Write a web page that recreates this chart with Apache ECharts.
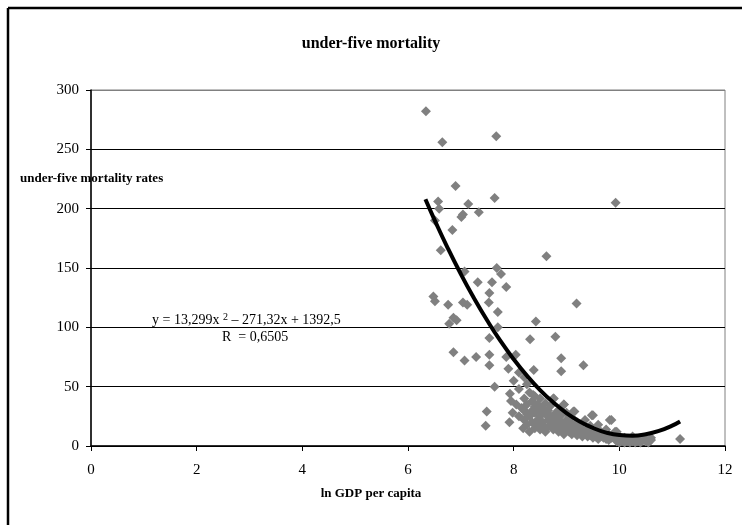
<!DOCTYPE html>
<html>
<head>
<meta charset="utf-8">
<script src="https://cdn.jsdelivr.net/npm/echarts@6/dist/echarts.min.js"></script>
<style>html,body{margin:0;padding:0;background:#fff;}#c{width:742px;height:525px;}</style>
</head>
<body>
<div id="c"></div>
<script>
// ln GDP per capita (x) and under-five mortality rate (y)
var lnGdp = [6.34,6.65,7.67,9.93,8.62,
6.90,7.64,6.57,7.14,6.59,7.34,7.01,7.04,6.51,6.84,6.62,7.07,7.68,7.76,7.32,7.59,7.86,7.54,6.48,6.51,6.76,7.04,7.12,7.53,7.70,6.86,6.78,6.92,8.42,7.70,7.54,8.31,8.79,9.19,
6.86,7.07,7.29,7.54,7.54,7.86,8.04,7.90,8.38,8.90,8.90,9.32,7.64,7.93,7.49,7.47,7.92,8.18,11.15,
8.00,8.05,8.10,7.95,8.10,8.15,7.98,8.10,8.20,8.25,8.37,8.76,8.95,9.13,9.48,9.82,9.92,
8.20,8.20,8.20,8.25,8.25,8.25,8.30,8.30,8.30,8.35,8.35,8.35,8.40,8.40,8.40,8.40,8.45,8.45,8.45,8.50,8.50,8.50,8.50,8.55,8.55,8.55,8.60,8.60,8.60,8.65,8.65,8.65,8.70,8.70,8.70,8.75,8.75,8.75,8.80,8.80,8.80,8.85,8.85,8.85,8.90,8.90,8.90,8.95,8.95,8.95,9.00,9.00,9.00,9.05,9.05,9.05,9.10,9.10,9.10,9.15,9.15,9.15,9.20,9.20,9.20,9.25,9.25,9.30,9.30,9.30,9.35,9.35,9.40,9.40,9.40,9.45,9.45,9.50,9.50,9.50,9.55,9.55,9.60,9.60,9.60,9.65,9.65,9.70,9.70,9.75,9.75,9.80,9.80,9.85,9.85,9.95,9.95,9.95,10.00,10.00,10.00,10.05,10.05,10.10,10.10,10.15,10.15,10.20,10.20,10.25,10.25,10.30,10.30,10.35,10.35,10.40,10.40,10.45,10.50,10.50,10.55,10.60,10.60];
var u5mr = [282,256,261,205,160,
219,209,206,204,200,197,193,195,190,182,165,147,150,145,138,138,134,129,126,122,119,121,119,121,113,108,103,106,105,100,91,90,92,120,
79,72,75,77,68,75,77,65,64,74,63,68,50,44,29,17,20,15,6,
55,35,48,38,25,32,28,62,58,52,43,40,35,29,26,22,12,
40,30,22,35,18,27,45,25,12,38,20,30,28,15,42,33,22,35,18,30,40,14,25,20,32,17,27,12,36,22,30,16,18,25,34,40,14,22,28,17,20,24,12,30,20,15,26,35,18,10,22,14,28,17,12,20,24,10,15,29,18,12,14,20,9,16,11,13,19,8,22,10,12,8,15,9,17,26,11,7,13,8,10,6,18,8,12,7,10,6,14,9,5,22,7,12,5,4,6,8,3,5,4,7,3,4,6,5,3,4,8,3,5,6,4,4,3,5,4,6,3,5,7];

// polynomial trend line
var trendX = [6.33,6.5,6.75,7.0,7.25,7.5,7.75,8.0,8.25,8.5,8.75,9.0,9.25,9.5,9.75,10.0,10.25,10.5,10.75,11.0,11.15];
var trendY = [207.9,190.8,167.0,144.9,124.5,105.7,88.5,73.1,59.3,47.1,36.7,27.8,20.7,15.2,11.3,9.2,8.7,9.9,12.7,17.2,20.7];

var xTicks = [0,2,4,6,8,10,12];
var yTicks = [0,50,100,150,200,250,300];

var titleText = 'under-five mortality';
var yName = 'under-five mortality rates';
var xName = 'ln GDP per capita';
var eqLine1a = 'y = 13,299x ';
var eqLine1b = '2';
var eqLine1c = ' – 271,32x + 1392,5';
var eqLine2 = 'R  = 0,6505';

var pts = lnGdp.map(function(x,i){return [x,u5mr[i]];});
var trend = trendX.map(function(x,i){return [x,trendY[i]];});

var serif = '"Liberation Serif", "Times New Roman", serif';
var chart = echarts.init(document.getElementById('c'), null, {renderer:'canvas'});
chart.setOption({
  backgroundColor:'#fff',
  animation:false,
  title:{text:titleText,left:'center',top:31,textStyle:{fontFamily:serif,fontWeight:'bold',fontSize:16,color:'#000'}},
  grid:{left:91,right:17,top:90,bottom:79,show:true,borderColor:'#808080',borderWidth:1,backgroundColor:'transparent'},
  xAxis:{type:'value',min:xTicks[0],max:xTicks[xTicks.length-1],interval:2,
    axisLine:{show:true,onZero:false,lineStyle:{color:'#000',width:1.5}},
    axisTick:{show:true,inside:false,length:5,lineStyle:{color:'#000'}},
    axisLabel:{fontFamily:serif,fontSize:15,color:'#000',margin:17},
    splitLine:{show:false}},
  yAxis:{type:'value',min:yTicks[0],max:yTicks[yTicks.length-1],interval:50,
    axisLine:{show:true,lineStyle:{color:'#000',width:1.5}},
    axisTick:{show:true,inside:false,length:5,lineStyle:{color:'#000'}},
    axisLabel:{fontFamily:serif,fontSize:15,color:'#000',margin:12},
    splitLine:{show:true,lineStyle:{color:['#000','#000','#000','#000','#000','#000','#808080'],width:1}}},
  graphic:[
    {type:'line',shape:{x1:8,y1:8,x2:742,y2:8},style:{stroke:'#000',lineWidth:2.5},z:100,silent:true},
    {type:'line',shape:{x1:8,y1:8,x2:8,y2:525},style:{stroke:'#000',lineWidth:2.5},z:100,silent:true},
    {type:'text',left:20,top:172,style:{text:yName,font:'bold 13px '+serif,fill:'#000'},z:101},
    {type:'text',left:'center',top:487,style:{text:xName,font:'bold 13px '+serif,fill:'#000'},z:101},
    {type:'text',left:152,top:312,style:{text:'{a|'+eqLine1a+'}{s|'+eqLine1b+'}{a|'+eqLine1c+'}',
      rich:{a:{fontFamily:serif,fontSize:14,fill:'#000',color:'#000'},s:{fontFamily:serif,fontSize:10,color:'#000',fill:'#000',verticalAlign:'top',padding:[0,0,6,0]}}},z:101},
    {type:'text',left:222,top:330,style:{text:eqLine2,font:'14px '+serif,fill:'#000'},z:101}
  ],
  series:[
    {type:'scatter',data:pts,symbol:'diamond',symbolSize:10,itemStyle:{color:'#808080',opacity:1},z:2},
    {type:'line',data:trend,smooth:true,showSymbol:false,symbol:'none',lineStyle:{color:'#000',width:4},z:3}
  ]
});
</script>
</body>
</html>
